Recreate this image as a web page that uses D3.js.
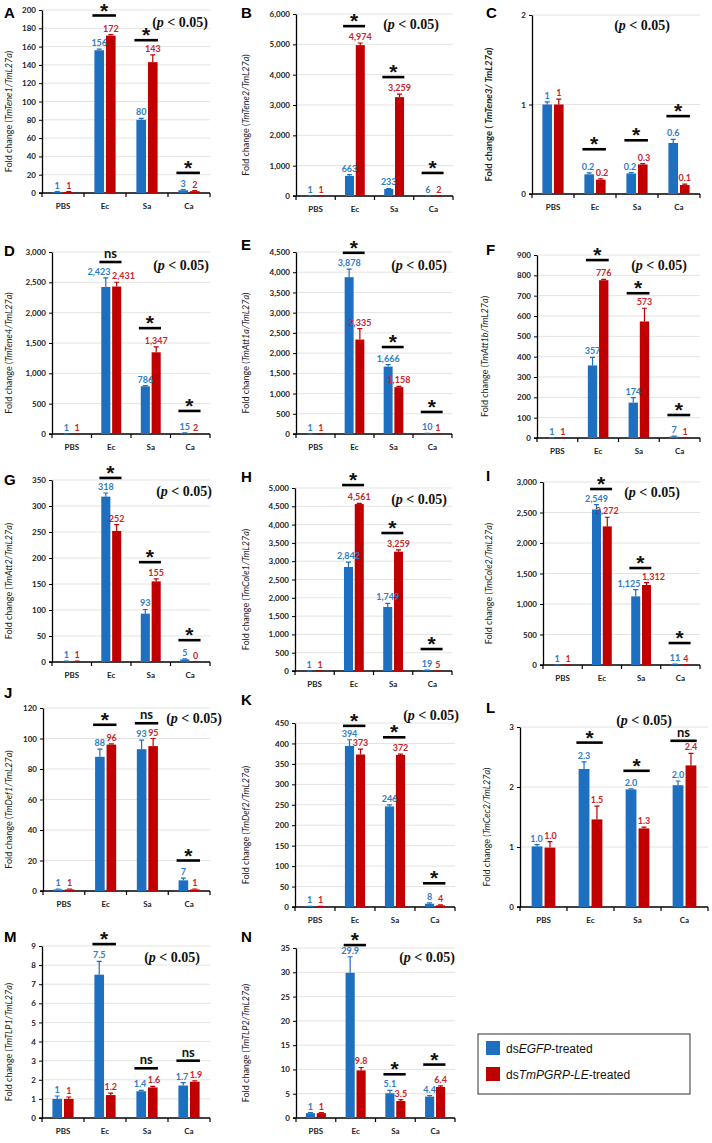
<!DOCTYPE html>
<html>
<head>
<meta charset="utf-8">
<script src="https://cdn.jsdelivr.net/npm/d3@7"></script>
<style>
body { margin: 0; background: #fff; }
text { font-family: Lato, "Open Sans", sans-serif; }
</style>
</head>
<body>
<svg id="fig" width="712" height="1143"></svg>
<script>
var cats = ["PBS", "Ec", "Sa", "Ca"];

// A  TmTene1
var tene1Egfp = [1, 156, 80, 3],      tene1EgfpErr = [0.4, 1.2, 1.5, 0.8];
var tene1Pgrp = [1, 172, 143, 2],     tene1PgrpErr = [0.4, 1, 8, 0.5];
var tene1Sig = ["", "*", "*", "*"],   tene1SigAt = [0, 194, 167, 22];
// B  TmTene2
var tene2Egfp = [1, 663, 233, 6],     tene2EgfpErr = [1, 40, 15, 2];
var tene2Pgrp = [1, 4974, 3259, 2],   tene2PgrpErr = [1, 70, 100, 1];
var tene2Sig = ["", "*", "*", "*"],   tene2SigAt = [0, 5600, 3920, 760];
// C  TmTene3
var tene3Egfp = [1, 0.22, 0.23, 0.57], tene3EgfpErr = [0.03, 0.015, 0.01, 0.04];
var tene3Pgrp = [1, 0.16, 0.33, 0.1],  tene3PgrpErr = [0.06, 0.01, 0.01, 0.01];
var tene3Sig = ["", "*", "*", "*"],    tene3SigAt = [0, 0.5, 0.6, 0.87];
// D  TmTene4
var tene4Egfp = [1, 2423, 786, 15],   tene4EgfpErr = [1, 150, 10, 5];
var tene4Pgrp = [1, 2431, 1347, 2],   tene4PgrpErr = [1, 70, 90, 1];
var tene4Sig = ["", "ns", "*", "*"],  tene4SigAt = [0, 2835, 1745, 380];
// E  TmAtt1a
var att1aEgfp = [1, 3878, 1666, 10],  att1aEgfpErr = [1, 200, 50, 5];
var att1aPgrp = [1, 2335, 1158, 1],   att1aPgrpErr = [1, 270, 20, 1];
var att1aSig = ["", "*", "*", "*"],   att1aSigAt = [0, 4480, 2150, 545];
// F  TmAtt1b
var att1bEgfp = [1, 357, 174, 7],     att1bEgfpErr = [0.5, 40, 25, 2];
var att1bPgrp = [1, 776, 573, 1],     att1bPgrpErr = [0.5, 4, 65, 0.5];
var att1bSig = ["", "*", "*", "*"],   att1bSigAt = [0, 875, 712, 113];
// G  TmAtt2
var att2Egfp = [1, 318, 93, 5],       att2EgfpErr = [0.5, 7, 8, 1];
var att2Pgrp = [1, 252, 155, 0.4],    att2PgrpErr = [0.5, 12, 5, 0.3];
var att2Sig = ["", "*", "*", "*"],    att2SigAt = [0, 354, 192, 42];
// H  TmCole1
var cole1Egfp = [1, 2842, 1749, 19],  cole1EgfpErr = [1, 130, 100, 5];
var cole1Pgrp = [1, 4561, 3259, 5],   cole1PgrpErr = [1, 20, 50, 2];
var cole1Sig = ["", "*", "*", "*"],   cole1SigAt = [0, 5080, 3770, 600];
// I  TmCole2
var cole2Egfp = [1, 2549, 1125, 11],  cole2EgfpErr = [1, 80, 110, 4];
var cole2Pgrp = [1, 2272, 1312, 4],   cole2PgrpErr = [1, 150, 40, 2];
var cole2Sig = ["", "*", "*", "*"],   cole2SigAt = [0, 2885, 1590, 360];
// J  TmDef1
var def1Egfp = [1, 88, 93, 7],        def1EgfpErr = [0.3, 5, 6, 1.5];
var def1Pgrp = [1, 96, 95, 1],        def1PgrpErr = [0.3, 0.5, 5, 0.3];
var def1Sig = ["", "*", "ns", "*"],   def1SigAt = [0, 109, 110, 20];
// K  TmDef2
var def2Egfp = [1, 394, 246, 8],      def2EgfpErr = [0.5, 15, 4, 2];
var def2Pgrp = [1, 373, 372, 4],      def2PgrpErr = [0.5, 13, 2, 1];
var def2Sig = ["", "*", "*", "*"],    def2SigAt = [0, 443, 415, 58];
// L  TmCec2
var cec2Egfp = [1.01, 2.3, 1.96, 2.03], cec2EgfpErr = [0.03, 0.12, 0.01, 0.07];
var cec2Pgrp = [0.99, 1.46, 1.31, 2.36], cec2PgrpErr = [0.1, 0.22, 0.02, 0.2];
var cec2Sig = ["", "*", "*", "ns"],     cec2SigAt = [0, 2.74, 2.27, 2.77];
// M  TmTLP1
var tlp1Egfp = [1, 7.5, 1.4, 1.7],    tlp1EgfpErr = [0.15, 0.7, 0.05, 0.15];
var tlp1Pgrp = [1, 1.2, 1.6, 1.9],    tlp1PgrpErr = [0.1, 0.1, 0.05, 0.05];
var tlp1Sig = ["", "*", "ns", "ns"],  tlp1SigAt = [0, 9.1, 2.6, 3.0];
// N  TmTLP2
var tlp2Egfp = [1, 29.9, 5.1, 4.4],   tlp2EgfpErr = [0.1, 3.3, 0.6, 0.2];
var tlp2Pgrp = [1, 9.8, 3.5, 6.4],    tlp2PgrpErr = [0.1, 0.6, 0.3, 0.2];
var tlp2Sig = ["", "*", "*", "*"],    tlp2SigAt = [0, 35.6, 9, 11];

var blueCol = "#1f6fc1", redCol = "#c00000";
var blueTxt = "#2e7dc8", redTxt = "#c8262b";

var intFmt = d3.format(",.0f");
var decFmt = function(v) { return v === 1 ? "1" : d3.format(".1f")(v); };

var panels = [
	{ id: "A", gene: "TmTene1", b: tene1Egfp, be: tene1EgfpErr, r: tene1Pgrp, re: tene1PgrpErr, sig: tene1Sig, sigAt: tene1SigAt,
	  max: 200, step: 20, fmt: intFmt, x0: 42, x1: 210, yTop: 10, yBot: 193, lab: [4, 18], tx: 12, p: [208, 27] },
	{ id: "B", gene: "TmTene2", b: tene2Egfp, be: tene2EgfpErr, r: tene2Pgrp, re: tene2PgrpErr, sig: tene2Sig, sigAt: tene2SigAt,
	  max: 6000, step: 1000, fmt: intFmt, x0: 296, x1: 453, yTop: 14, yBot: 196, lab: [241, 18], tx: 249, p: [439, 29] },
	{ id: "C", gene: "TmTene3", b: tene3Egfp, be: tene3EgfpErr, r: tene3Pgrp, re: tene3PgrpErr, sig: tene3Sig, sigAt: tene3SigAt,
	  max: 2, step: 1, fmt: decFmt, x0: 532, x1: 700, yTop: 15, yBot: 194, lab: [486, 18], tx: 492, p: [670, 30], boldTitle: true },
	{ id: "D", gene: "TmTene4", b: tene4Egfp, be: tene4EgfpErr, r: tene4Pgrp, re: tene4PgrpErr, sig: tene4Sig, sigAt: tene4SigAt,
	  max: 3000, step: 500, fmt: intFmt, x0: 52, x1: 210, yTop: 252, yBot: 434, lab: [4, 256], tx: 12, p: [209, 270] },
	{ id: "E", gene: "TmAtt1a", b: att1aEgfp, be: att1aEgfpErr, r: att1aPgrp, re: att1aPgrpErr, sig: att1aSig, sigAt: att1aSigAt,
	  max: 4500, step: 500, fmt: intFmt, x0: 296, x1: 452, yTop: 252, yBot: 434, lab: [241, 250], tx: 249, p: [447, 270] },
	{ id: "F", gene: "TmAtt1b", b: att1bEgfp, be: att1bEgfpErr, r: att1bPgrp, re: att1bPgrpErr, sig: att1bSig, sigAt: att1bSigAt,
	  max: 900, step: 100, fmt: intFmt, x0: 537, x1: 700, yTop: 255, yBot: 438, lab: [486, 255], tx: 488, p: [687, 270] },
	{ id: "G", gene: "TmAtt2", b: att2Egfp, be: att2EgfpErr, r: att2Pgrp, re: att2PgrpErr, sig: att2Sig, sigAt: att2SigAt,
	  max: 350, step: 50, fmt: intFmt, x0: 52, x1: 210, yTop: 480, yBot: 662, lab: [4, 485], tx: 12, p: [212, 496] },
	{ id: "H", gene: "TmCole1", b: cole1Egfp, be: cole1EgfpErr, r: cole1Pgrp, re: cole1PgrpErr, sig: cole1Sig, sigAt: cole1SigAt,
	  max: 5000, step: 500, fmt: intFmt, x0: 295, x1: 452, yTop: 488, yBot: 671, lab: [241, 482], tx: 249, p: [447, 504] },
	{ id: "I", gene: "TmCole2", b: cole2Egfp, be: cole2EgfpErr, r: cole2Pgrp, re: cole2PgrpErr, sig: cole2Sig, sigAt: cole2SigAt,
	  max: 3000, step: 500, fmt: intFmt, x0: 543, x1: 700, yTop: 482, yBot: 665, lab: [486, 481], tx: 492, p: [680, 497] },
	{ id: "J", gene: "TmDef1", b: def1Egfp, be: def1EgfpErr, r: def1Pgrp, re: def1PgrpErr, sig: def1Sig, sigAt: def1SigAt,
	  max: 120, step: 20, fmt: intFmt, x0: 43, x1: 210, yTop: 708, yBot: 891, lab: [4, 698], tx: 12, p: [222, 723] },
	{ id: "K", gene: "TmDef2", b: def2Egfp, be: def2EgfpErr, r: def2Pgrp, re: def2PgrpErr, sig: def2Sig, sigAt: def2SigAt,
	  max: 450, step: 50, fmt: intFmt, x0: 295, x1: 455, yTop: 723, yBot: 907, lab: [241, 705], tx: 249, p: [459, 720] },
	{ id: "L", gene: "TmCec2", b: cec2Egfp, be: cec2EgfpErr, r: cec2Pgrp, re: cec2PgrpErr, sig: cec2Sig, sigAt: cec2SigAt,
	  max: 3, step: 1, fmt: d3.format(".1f"), x0: 520, x1: 708, yTop: 727, yBot: 907, lab: [486, 713], tx: 490, p: [672, 725] },
	{ id: "M", gene: "TmTLP1", b: tlp1Egfp, be: tlp1EgfpErr, r: tlp1Pgrp, re: tlp1PgrpErr, sig: tlp1Sig, sigAt: tlp1SigAt,
	  max: 9, step: 1, fmt: decFmt, x0: 42, x1: 210, yTop: 946, yBot: 1118, lab: [4, 942], tx: 12, p: [200, 962] },
	{ id: "N", gene: "TmTLP2", b: tlp2Egfp, be: tlp2EgfpErr, r: tlp2Pgrp, re: tlp2PgrpErr, sig: tlp2Sig, sigAt: tlp2SigAt,
	  max: 35, step: 5, fmt: decFmt, x0: 296, x1: 455, yTop: 948, yBot: 1118, lab: [241, 942], tx: 249, p: [455, 962] }
];

var svg = d3.select("#fig");

panels.forEach(function(p) {
	var g = svg.append("g");

	var x = d3.scaleBand().domain(cats).range([p.x0, p.x1]);
	var y = d3.scaleLinear().domain([0, p.max]).range([p.yBot, p.yTop]);
	var ticks = d3.range(0, p.max + p.step / 2, p.step);
	var bw = x.bandwidth() * 0.23, gap = x.bandwidth() * 0.045;

	// gridlines
	g.selectAll("line.grid")
		.data(ticks.slice(1))
		.enter().append("line")
		.attr("x1", p.x0).attr("x2", p.x1)
		.attr("y1", function(d) { return y(d); })
		.attr("y2", function(d) { return y(d); })
		.style("stroke", "#e3e3e3")
		.style("stroke-width", 1);

	// y axis
	var yAxis = d3.axisLeft(y)
		.tickValues(ticks)
		.tickSize(3)
		.tickSizeOuter(0)
		.tickFormat(p.max > 100 ? d3.format(",") : d3.format("d"));
	var ya = g.append("g")
		.attr("transform", "translate(" + p.x0 + ",0)")
		.call(yAxis);
	ya.select(".domain").style("stroke", "#000").style("stroke-width", 1.3);
	ya.selectAll(".tick line").style("stroke", "#000");
	ya.selectAll("text")
		.style("font-size", "8px")
		.style("font-weight", "bold")
		.style("fill", "#222")
		.attr("x", -6);

	// x axis
	g.append("line")
		.attr("x1", p.x0 - 3).attr("x2", p.x1)
		.attr("y1", p.yBot).attr("y2", p.yBot)
		.style("stroke", "#000").style("stroke-width", 1.3);
	var bounds = cats.map(function(c) { return x(c); }).concat([x.range()[1]]);
	g.selectAll("line.xt")
		.data(bounds)
		.enter().append("line")
		.attr("x1", function(d) { return d; })
		.attr("x2", function(d) { return d; })
		.attr("y1", p.yBot).attr("y2", p.yBot + 4)
		.style("stroke", "#000").style("stroke-width", 1.2);
	g.selectAll("text.cat")
		.data(cats)
		.enter().append("text")
		.attr("x", function(d) { return x(d) + x.bandwidth() / 2; })
		.attr("y", p.yBot + 16)
		.attr("text-anchor", "middle")
		.style("font-size", "8px")
		.style("font-weight", "bold")
		.style("fill", "#222")
		.text(function(d) { return d; });

	var series = [
		{ vals: p.b, err: p.be, col: blueCol, txt: blueTxt, off: -gap / 2 - bw },
		{ vals: p.r, err: p.re, col: redCol, txt: redTxt, off: gap / 2 }
	];
	series.forEach(function(s) {
		s.rows = cats.map(function(c, i) { return { c: c, v: s.vals[i], e: s.err[i] }; });
		s.cx = function(d) { return x(d.c) + x.bandwidth() / 2 + s.off; };
	});

	// bars + error bars first
	series.forEach(function(s) {
		g.selectAll(null)
			.data(s.rows)
			.enter().append("rect")
			.attr("x", s.cx)
			.attr("width", bw)
			.attr("y", function(d) { return y(d.v); })
			.attr("height", function(d) { return p.yBot - y(d.v); })
			.style("fill", s.col);

		g.selectAll(null)
			.data(s.rows)
			.enter().append("path")
			.attr("d", function(d) {
				var m = s.cx(d) + bw / 2, t = y(d.v + d.e), b = y(d.v);
				return "M" + m + "," + b + "V" + t + "M" + (m - 2.5) + "," + t + "H" + (m + 2.5);
			})
			.style("fill", "none")
			.style("stroke", s.col)
			.style("stroke-width", 1.2);
	});

	// value labels on top
	series.forEach(function(s) {
		s.labels = g.selectAll(null)
			.data(s.rows)
			.enter().append("text")
			.attr("x", function(d) { return s.cx(d) + bw / 2; })
			.attr("y", function(d) { return y(d.v + d.e) - 3; })
			.attr("text-anchor", "middle")
			.style("font-size", "9px")
			.style("font-weight", "bold")
			.style("fill", s.txt)
			.text(function(d) { return p.fmt(d.v); });
	});
	// push apart blue/red labels that would collide
	var bn = series[0].labels.nodes(), rn = series[1].labels.nodes();
	bn.forEach(function(b, i) {
		var r = rn[i];
		var by = +b.getAttribute("y"), ry = +r.getAttribute("y");
		if (Math.abs(by - ry) > 9) return;
		var bx = +b.getAttribute("x"), rx = +r.getAttribute("x");
		var need = (b.getComputedTextLength() + r.getComputedTextLength()) / 2 + 1.5;
		var over = need - (rx - bx);
		if (over > 0) {
			b.setAttribute("x", bx - over / 2);
			r.setAttribute("x", rx + over / 2);
		}
	});

	// significance bars
	var sigRows = cats.map(function(c, i) { return { c: c, s: p.sig[i], at: p.sigAt[i] }; })
		.filter(function(d) { return d.s !== ""; });
	g.selectAll(null)
		.data(sigRows)
		.enter().append("line")
		.attr("x1", function(d) { return x(d.c) + x.bandwidth() * 0.2; })
		.attr("x2", function(d) { return x(d.c) + x.bandwidth() * 0.76; })
		.attr("y1", function(d) { return y(d.at); })
		.attr("y2", function(d) { return y(d.at); })
		.style("stroke", "#000")
		.style("stroke-width", 2.6);
	g.selectAll(null)
		.data(sigRows)
		.enter().append("text")
		.attr("x", function(d) { return x(d.c) + x.bandwidth() * 0.48; })
		.attr("y", function(d) { return d.s === "*" ? y(d.at) + 2 : y(d.at) - 4; })
		.attr("text-anchor", "middle")
		.style("font-family", function(d) { return d.s === "*" ? "'Liberation Sans', Arial, sans-serif" : null; })
		.style("font-size", function(d) { return d.s === "*" ? "21px" : "13px"; })
		.style("font-weight", "bold")
		.style("fill", "#111")
		.text(function(d) { return d.s; });

	// (p < 0.05)
	var pt = g.append("text")
		.attr("x", p.p[0]).attr("y", p.p[1])
		.attr("text-anchor", "end")
		.style("font-family", "'Liberation Serif', 'DejaVu Serif', serif")
		.style("font-size", "14px")
		.style("font-weight", "bold")
		.style("fill", "#111");
	pt.append("tspan").text("(");
	pt.append("tspan").style("font-style", "italic").text("p");
	pt.append("tspan").text(" < 0.05)");

	// panel letter
	g.append("text")
		.attr("x", p.lab[0]).attr("y", p.lab[1])
		.style("font-family", "'Liberation Sans', Arial, sans-serif")
		.style("font-size", "15px")
		.style("font-weight", "bold")
		.text(p.id);

	// y title
	var ymid = (p.yTop + p.yBot) / 2 + 10;
	var tt = g.append("text")
		.attr("transform", "translate(" + p.tx + "," + ymid + ") rotate(-90)")
		.attr("text-anchor", "middle")
		.style("font-size", p.boldTitle ? "9.5px" : "9px")
		.style("font-weight", p.boldTitle ? "bold" : "normal")
		.style("fill", "#222");
	tt.append("tspan").text(p.boldTitle ? "Fold change ( " : "Fold change (");
	tt.append("tspan").style("font-style", "italic")
		.text(p.boldTitle ? p.gene + "/ TmL27a" : p.gene + "/TmL27a");
	tt.append("tspan").text(")");
});

// legend
var lg = svg.append("g");
lg.append("rect")
	.attr("x", 478).attr("y", 1034).attr("width", 212).attr("height", 60)
	.style("fill", "#fff").style("stroke", "#333").style("stroke-width", 1);
var legItems = [
	{ col: blueCol, pre: "ds", it: "EGFP", post: "-treated" },
	{ col: redCol, pre: "ds", it: "TmPGRP-LE", post: "-treated" }
];
legItems.forEach(function(d, i) {
	lg.append("rect")
		.attr("x", 486).attr("y", 1041 + i * 26)
		.attr("width", 14).attr("height", 14)
		.style("fill", d.col);
	var t = lg.append("text")
		.attr("x", 506).attr("y", 1053 + i * 26)
		.style("font-family", "'Liberation Sans', Arial, sans-serif")
		.style("font-size", "12px")
		.style("fill", "#111");
	t.append("tspan").text(d.pre);
	t.append("tspan").style("font-style", "italic").text(d.it);
	t.append("tspan").text(d.post);
});
</script>
</body>
</html>
